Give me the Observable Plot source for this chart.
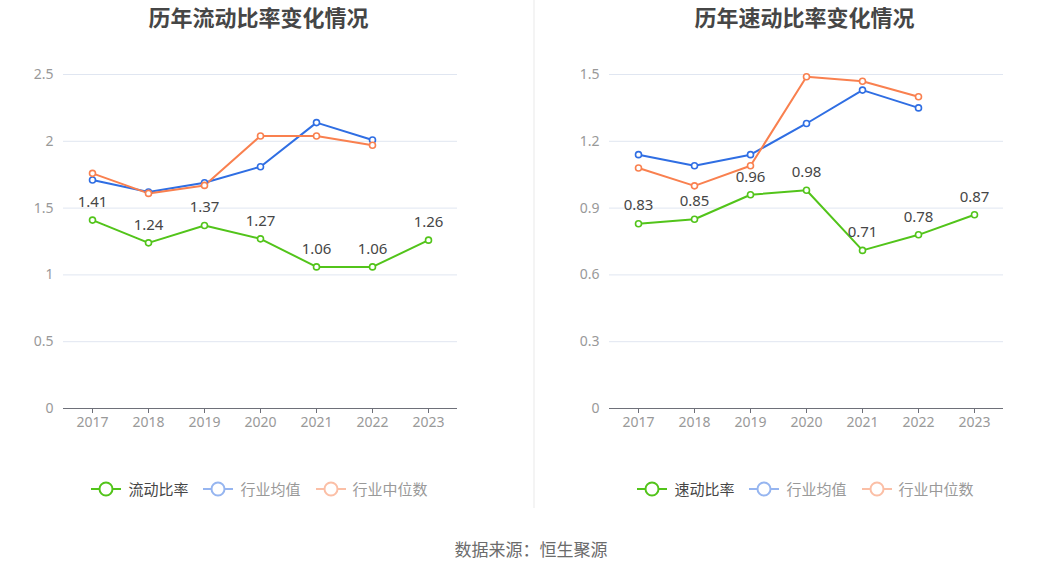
<!DOCTYPE html>
<html>
<head>
<meta charset="utf-8">
<script src="https://cdn.jsdelivr.net/npm/d3@7"></script>
<script src="https://cdn.jsdelivr.net/npm/@observablehq/plot@0.6"></script>
<style>
  html, body { margin:0; padding:0; background:#fff; }
  body { width:1062px; height:573px; position:relative; overflow:hidden;
         font-family: "Noto Sans CJK SC", "Noto Sans", sans-serif; }
  .title { position:absolute; top:1px; width:531px; text-align:center; font-size:22px;
           font-weight:bold; color:#464646; line-height:30px; }
  .chart { position:absolute; top:40px; }
  .legend { position:absolute; top:477px; width:531px; display:flex; justify-content:center;
            font-size:15px; line-height:24px; }
  .legend .item { display:flex; align-items:center; margin-right:15px; }
  .legend .item:last-child { margin-right:0; }
  .legend svg { margin-right:7px; }
  .sep { position:absolute; left:533px; top:0; width:2px; height:508px; background:#f4f4f4; }
  .caption { position:absolute; top:536px; left:0; width:1062px; text-align:center;
             font-size:17px; color:#6b6b6b; line-height:26px; }
</style>
</head>
<body>
<div class="sep"></div>
<div class="title" style="left:-7px">历年流动比率变化情况</div>
<div class="title" style="left:539px">历年速动比率变化情况</div>
<div id="c1" class="chart" style="left:0"></div>
<div id="c2" class="chart" style="left:531px"></div>
<div id="l1" class="legend" style="left:-6px"></div>
<div id="l2" class="legend" style="left:540px"></div>
<div class="caption">数据来源：恒生聚源</div>
<script>
const years = ["2017","2018","2019","2020","2021","2022","2023"];
const industryYears = ["2017","2018","2019","2020","2021","2022"];

const currentRatio  = [1.41, 1.24, 1.37, 1.27, 1.06, 1.06, 1.26];
const currentAvg    = [1.71, 1.62, 1.69, 1.81, 2.14, 2.01];
const currentMedian = [1.76, 1.61, 1.67, 2.04, 2.04, 1.97];
const currentTicks  = [0, 0.5, 1, 1.5, 2, 2.5];

const quickRatio  = [0.83, 0.85, 0.96, 0.98, 0.71, 0.78, 0.87];
const quickAvg    = [1.14, 1.09, 1.14, 1.28, 1.43, 1.35];
const quickMedian = [1.08, 1.00, 1.09, 1.49, 1.47, 1.40];
const quickTicks  = [0, 0.3, 0.6, 0.9, 1.2, 1.5];

const GREEN = "#52c41a", BLUE = "#2f6ee3", ORANGE = "#f9804f";

function toRows(xs, vs) { return vs.map((v, i) => ({year: xs[i], value: v})); }

function makeChart(main, avg, med, ticks, ml, mr) {
  const mainRows = toRows(years, main);
  const avgRows = toRows(industryYears, avg);
  const medRows = toRows(industryYears, med);
  const fmt = d => String(+d.toFixed(2));
  const series = [[mainRows, GREEN], [avgRows, BLUE], [medRows, ORANGE]];
  const marks = [
    Plot.gridY(ticks, {stroke: "#e0e6f1", strokeOpacity: 1, strokeWidth: 1}),
    Plot.axisY(ticks, {tickSize: 0, tickPadding: 10, tickFormat: fmt, fill: "#999", fontSize: 14, label: null}),
    Plot.ruleY([0], {stroke: "#6e7079", strokeWidth: 1}),
    Plot.axisX({tickSize: 5, tickPadding: 4, stroke: "#6e7079", fill: "#999", fontSize: 14, label: null})
  ];
  for (const [rows, c] of series) {
    marks.push(Plot.line(rows, {x: "year", y: "value", stroke: c, strokeWidth: 2}));
  }
  for (const [rows, c] of series) {
    marks.push(Plot.dot(rows, {x: "year", y: "value", r: 3, fill: "#fff", stroke: c, strokeWidth: 1.6}));
  }
  marks.push(Plot.text(mainRows, {x: "year", y: "value", text: d => d.value.toFixed(2), dy: -18,
    fill: "#464646", fontSize: 15}));
  return Plot.plot({
    width: 531, height: 400,
    marginTop: 34, marginBottom: 32, marginLeft: ml, marginRight: mr,
    style: {fontFamily: '"Noto Sans", "Noto Sans CJK SC", sans-serif', background: "transparent"},
    x: {type: "point", domain: years, padding: 0.5},
    y: {domain: [ticks[0], ticks[ticks.length - 1]]},
    marks
  });
}

document.getElementById("c1").appendChild(makeChart(currentRatio, currentAvg, currentMedian, currentTicks, 63, 74));
document.getElementById("c2").appendChild(makeChart(quickRatio, quickAvg, quickMedian, quickTicks, 78, 59));

function legend(el, names) {
  const items = [[names[0], GREEN, 1, "#464646"], [names[1], BLUE, 0.5, "#999"], [names[2], ORANGE, 0.5, "#999"]];
  for (const [name, c, op, tc] of items) {
    const d = document.createElement("div");
    d.className = "item";
    d.innerHTML = `<svg width="30" height="16"><g opacity="${op}"><line x1="0" y1="8" x2="30" y2="8" stroke="${c}" stroke-width="2"/>` +
      `<circle cx="15" cy="8" r="6.5" fill="#fff" stroke="${c}" stroke-width="2"/></g></svg><span style="color:${tc}">${name}</span>`;
    el.appendChild(d);
  }
}
legend(document.getElementById("l1"), ["流动比率", "行业均值", "行业中位数"]);
legend(document.getElementById("l2"), ["速动比率", "行业均值", "行业中位数"]);
</script>
</body>
</html>
